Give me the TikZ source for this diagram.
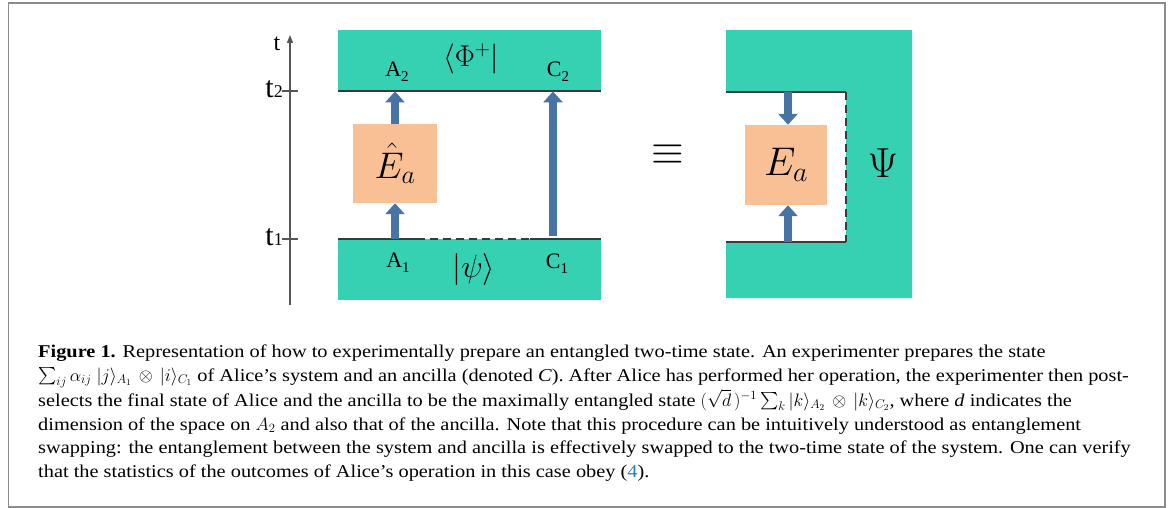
\RequirePackage{fix-cm}
\documentclass[tikz,border=0pt]{standalone}
\usepackage{amsmath}
\usepackage{exscale}
\usepackage{fontspec}
\setmainfont{Liberation Serif}
\newfontfamily\capfont[FakeStretch=1.13]{Liberation Serif}
\usetikzlibrary{arrows.meta}
\definecolor{tealc}{HTML}{36D0B2}
\definecolor{orangec}{HTML}{F8C094}
\definecolor{arrowc}{HTML}{4774A5}
\definecolor{rimc}{HTML}{3A3A3A}
\definecolor{axisc}{HTML}{555555}
\definecolor{framec}{HTML}{8C8C8C}
\definecolor{linkc}{HTML}{2B7BB9}
\tikzset{
  tealbox/.style={fill=tealc, draw=none, inner sep=0pt, anchor=north west},
  opbox/.style={fill=orangec, draw=none, inner sep=0pt},
  flow/.style={draw=arrowc, line width=7.5pt, -{Triangle[width=19pt,length=11pt]}},
  rim/.style={draw=rimc, line width=2pt},
  rimdash/.style={draw=rimc, line width=2pt, dash pattern=on 8pt off 5pt},
  lab/.style={inner sep=0pt, font=\fontsize{22}{22}\selectfont},
  caption/.style={inner sep=0pt, anchor=base west, font=\capfont\fontsize{18}{20}\selectfont},
}
\newcommand{\smallsub}[1]{\raisebox{-0.22em}{\fontsize{15}{15}\selectfont #1}}
\newcommand{\tick}[1]{{\fontsize{30}{30}\selectfont t}{\fontsize{18}{18}\selectfont #1}}
\newcommand{\bigsum}{\mathop{\vcenter{\hbox{\fontsize{19}{19}\selectfont$\sum$}}}}
\begin{document}
\begin{tikzpicture}[x=1pt,y=-1pt]
\useasboundingbox (0,0) rectangle (1171,508);
% frame
\draw[framec, line width=1.5pt] (8.5,3) rectangle (1165,507);

% ---------- time axis ----------
\coordinate (axbot) at (290,305);
\coordinate (axtop) at (290,35);
\draw[axisc, line width=1.5pt, -{Triangle[width=6pt,length=8pt]}] (axbot) -- (axtop);
\coordinate (tk2) at (290,91);
\coordinate (tk1) at (290,239);
\draw[axisc, line width=1.5pt] ([xshift=-8pt]tk2) -- ([xshift=8pt]tk2);
\draw[axisc, line width=1.5pt] ([xshift=-8pt]tk1) -- ([xshift=8pt]tk1);
\node[inner sep=0pt, font=\fontsize{24}{24}\selectfont] (tlab) at (277,44) {t};
\node[inner sep=0pt, anchor=east] (t2lab) at (283,89) {\tick{2}};
\node[inner sep=0pt, anchor=east] (t1lab) at (283,237) {\tick{1}};

% ---------- left diagram ----------
\node[tealbox, minimum width=263pt, minimum height=61pt] (topL) at (338,30) {};
\node[tealbox, minimum width=263pt, minimum height=61pt] (botL) at (338,239) {};
\draw[rim] (topL.south west) -- (topL.south east);
\coordinate (dA) at (417,239);
\coordinate (dC) at (530,239);
\draw[rim] (botL.north west) -- (dA);
\draw[rimdash] (dA) -- (dC);
\draw[rim] (dC) -- (botL.north east);

\node[opbox, minimum width=84pt, minimum height=79pt] (opL) at (395,163.5)
  {\fontsize{37}{37}\selectfont$\hat{E}_a$};
\draw[flow] (opL.north) -- (opL.north |- topL.south);
\draw[flow] (opL.south |- botL.north) -- (opL.south);
\coordinate (cfoot) at (553,236);
\draw[flow] (cfoot) -- (cfoot |- topL.south);

\node[lab] (A2) at (397,72) {A\smallsub{2}};
\node[lab] (C2) at (558,72) {C\smallsub{2}};
\node[inner sep=0pt, font=\fontsize{30}{30}\selectfont] (phi) at (471,59) {$\langle\Phi^{+}|$};
\node[lab] (A1) at (398,263) {A\smallsub{1}};
\node[lab] (C1) at (557,264) {C\smallsub{1}};
\node[inner sep=0pt, font=\fontsize{32}{32}\selectfont] (psi) at (474,269) {$|\psi\rangle$};

% ---------- equivalence ----------
\node[inner sep=0pt, font=\fontsize{42}{42}\selectfont] (equiv) at (668,155) {$\equiv$};

% ---------- right diagram ----------
\coordinate (r1) at (726,30);
\coordinate (r2) at (912,30);
\coordinate (r3) at (912,298);
\coordinate (r4) at (726,298);
\coordinate (r5) at (726,242);
\coordinate (r6) at (846,242);
\coordinate (r7) at (846,92);
\coordinate (r8) at (726,92);
\fill[tealc] (r1) -- (r2) -- (r3) -- (r4) -- (r5) -- (r6) -- (r7) -- (r8) -- cycle;
\draw[rim] (r8) -- (r7);
\draw[rim] (r5) -- (r6);
\draw[rimdash] (r7) -- (r6);

\node[opbox, minimum width=82pt, minimum height=80pt] (opR) at (786,165)
  {\fontsize{40}{40}\selectfont$E_a$};
\coordinate (rtop) at (788,92);
\coordinate (rbot) at (788,242);
\draw[flow] (rtop) -- (rtop |- opR.north);
\draw[flow] (rbot) -- (rbot |- opR.south);
\node[inner sep=0pt, font=\fontsize{42}{42}\selectfont] (Psi) at (883,163) {$\Psi$};

% ---------- caption ----------
\node[caption] (cap1) at (38,357) {\textbf{Figure 1.} Representation of how to experimentally prepare an entangled two-time state. An experimenter prepares the state};
\node[caption] (cap2) at (38,381) {$\bigsum_{ij}\alpha_{ij}\;|j\rangle_{A_1}\,\otimes\,|i\rangle_{C_1}$ of Alice’s system and an ancilla (denoted \textit{C}). After Alice has performed her operation, the experimenter then post-};
\node[caption] (cap3) at (38,406) {selects the final state of Alice and the ancilla to be the maximally entangled state $(\sqrt{d}\,)^{-1}\bigsum_k|k\rangle_{A_2}\,\otimes\,|k\rangle_{C_2}$, where \textit{d} indicates the};
\node[caption] (cap4) at (38,430) {dimension of the space on $A_2$ and also that of the ancilla. Note that this procedure can be intuitively understood as entanglement};
\node[caption] (cap5) at (38,453) {swapping: the entanglement between the system and ancilla is effectively swapped to the two-time state of the system. One can verify};
\node[caption] (cap6) at (38,477) {that the statistics of the outcomes of Alice’s operation in this case obey (\textcolor{linkc}{4}).};
\end{tikzpicture}
\end{document}
